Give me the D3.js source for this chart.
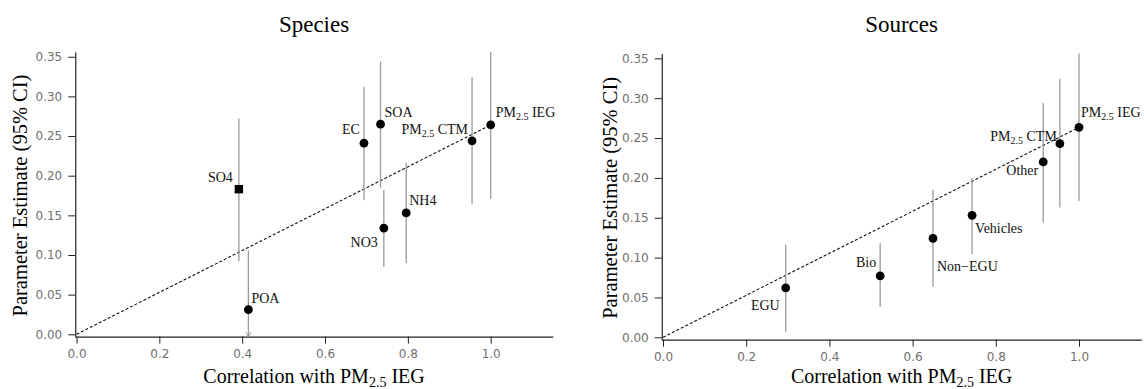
<!DOCTYPE html>
<html>
<head>
<meta charset="utf-8">
<script src="https://cdn.jsdelivr.net/npm/d3@7"></script>
<style>
  body { margin: 0; background: #fff; }
  svg { display: block; }
  .tick text { font-family: "DejaVu Sans", sans-serif; font-size: 12px; fill: #707070; }
  .tick line, .domain { stroke: #222; }
</style>
</head>
<body>
<div id="chart"></div>
<script>
// species panel
var species      = ["SO4", "POA", "EC", "SOA", "NO3", "NH4", "PM2.5 CTM", "PM2.5 IEG"];
var speciesCorr  = [0.392, 0.415, 0.694, 0.734, 0.742, 0.796, 0.955, 1.0];
var speciesEst   = [0.183, 0.031, 0.241, 0.265, 0.134, 0.153, 0.244, 0.264];
var speciesLow   = [0.092, -0.02, 0.169, 0.185, 0.085, 0.090, 0.164, 0.171];
var speciesHigh  = [0.272, 0.106, 0.312, 0.344, 0.182, 0.216, 0.324, 0.356];

// sources panel
var sources      = ["EGU", "Bio", "Non\u2212EGU", "Vehicles", "Other", "PM2.5 CTM", "PM2.5 IEG"];
var sourcesCorr  = [0.295, 0.522, 0.649, 0.743, 0.914, 0.954, 1.0];
var sourcesEst   = [0.062, 0.077, 0.124, 0.153, 0.220, 0.243, 0.2635];
var sourcesLow   = [0.007, 0.038, 0.0635, 0.1045, 0.144, 0.163, 0.171];
var sourcesHigh  = [0.116, 0.118, 0.185, 0.200, 0.294, 0.324, 0.356];

var xTicks = [0, 0.2, 0.4, 0.6, 0.8, 1.0];
var yTicks = [0, 0.05, 0.10, 0.15, 0.20, 0.25, 0.30, 0.35];

// where each label sits relative to its point
var speciesLabelPos = {
  "SO4": [-6, -7, "end"], "POA": [3, -7, "start"], "EC": [-4, -9, "end"],
  "SOA": [4, -7, "start"], "NO3": [-6, 19, "end"], "NH4": [3, -8, "start"],
  "PM2.5 CTM": [-4, -7, "end"], "PM2.5 IEG": [5, -8, "start"]
};
var sourcesLabelPos = {
  "EGU": [-6, 22, "end"], "Bio": [-4, -9, "end"], "Non\u2212EGU": [4, 33, "start"],
  "Vehicles": [3, 18, "start"], "Other": [-5, 13, "end"],
  "PM2.5 CTM": [-3, -3, "end"], "PM2.5 IEG": [2, -10, "start"]
};

var W = 1144, H = 389;
var svg = d3.select("#chart").append("svg").attr("width", W).attr("height", H);

svg.append("defs").append("marker")
  .attr("id", "vhead")
  .attr("viewBox", "-5 -8 10 10")
  .attr("refX", 0).attr("refY", 0)
  .attr("markerWidth", 10).attr("markerHeight", 10)
  .attr("markerUnits", "userSpaceOnUse")
  .attr("orient", "auto")
  .append("path")
  .attr("d", "M-3.5,-6L0,0L3.5,-6")
  .attr("transform", "rotate(-90)")
  .attr("fill", "none")
  .attr("stroke", "#999")
  .attr("stroke-width", 1);

function addLabel(g, name, x, y, pos) {
  var t = g.append("text")
    .attr("x", x + pos[0]).attr("y", y + pos[1])
    .attr("text-anchor", pos[2])
    .style("font-family", "'Liberation Serif', 'Times New Roman', serif")
    .style("font-size", "14px")
    .style("fill", "#111");
  if (name.indexOf("PM2.5") === 0) {
    t.append("tspan").text("PM");
    t.append("tspan").text("2.5").attr("dy", 3).style("font-size", "10px");
    t.append("tspan").text(" " + name.slice(6)).attr("dy", -3);
  } else {
    t.text(name);
  }
}

function drawPanel(opt) {
  var g = svg.append("g");

  var x = d3.scaleLinear().domain([-0.003, 1.15])
    .range([opt.x0 - 0.003 * opt.xUnit, opt.x0 + 1.15 * opt.xUnit]);
  var y = d3.scaleLinear().domain([-0.003, 0.356])
    .range([opt.y0 + 0.003 * opt.yUnit, opt.y0 - 0.356 * opt.yUnit]);

  g.append("g")
    .attr("transform", "translate(0," + y(-0.003) + ")")
    .call(d3.axisBottom(x).tickValues(xTicks).tickFormat(d3.format(".1f"))
      .tickSizeInner(7).tickSizeOuter(0).tickPadding(6));

  g.append("g")
    .attr("transform", "translate(" + x(-0.003) + ",0)")
    .call(d3.axisLeft(y).tickValues(yTicks).tickFormat(d3.format(".2f"))
      .tickSizeInner(7).tickSizeOuter(0).tickPadding(6));

  g.selectAll(".domain").attr("stroke-width", 1.2);

  var serif = "'Liberation Serif', 'Times New Roman', serif";
  var xMid = (x(-0.003) + x(1.15)) / 2;

  g.append("text")
    .attr("x", xMid).attr("y", 32)
    .attr("text-anchor", "middle")
    .style("font-family", serif).style("font-size", "23px")
    .text(opt.title);

  var xt = g.append("text")
    .attr("x", xMid).attr("y", 383)
    .attr("text-anchor", "middle")
    .style("font-family", serif).style("font-size", "20px");
  xt.append("tspan").text("Correlation with PM");
  xt.append("tspan").text("2.5").attr("dy", 4).style("font-size", "14px");
  xt.append("tspan").text(" IEG").attr("dy", -4);

  g.append("text")
    .attr("transform", "translate(" + opt.yTitleX + "," + y(0.175) + ") rotate(-90)")
    .attr("text-anchor", "middle")
    .style("font-family", serif).style("font-size", "20.5px")
    .text("Parameter Estimate (95% CI)");

  // dashed reference line from origin to the PM2.5 IEG estimate
  var last = opt.names.length - 1;
  g.append("line")
    .attr("x1", x(0)).attr("y1", y(0))
    .attr("x2", x(opt.corr[last])).attr("y2", y(opt.est[last]))
    .attr("stroke", "#111").attr("stroke-width", 1.1)
    .attr("stroke-dasharray", "3,2");

  opt.names.forEach(function(name, i) {
    var cx = x(opt.corr[i]);
    var clipped = opt.low[i] < 0;
    g.append("line")
      .attr("x1", cx).attr("x2", cx)
      .attr("y1", y(opt.high[i]))
      .attr("y2", clipped ? y(-0.003) : y(opt.low[i]))
      .attr("stroke", "#9a9a9a").attr("stroke-width", 1.3)
      .attr("marker-end", clipped ? "url(#vhead)" : null);
  });

  opt.names.forEach(function(name, i) {
    var cx = x(opt.corr[i]), cy = y(opt.est[i]);
    if (opt.square && opt.square.indexOf(name) >= 0) {
      g.append("rect")
        .attr("x", cx - 4.2).attr("y", cy - 4.2)
        .attr("width", 8.4).attr("height", 8.4)
        .attr("fill", "#000");
    } else {
      g.append("circle")
        .attr("cx", cx).attr("cy", cy).attr("r", 4.4)
        .attr("fill", "#000");
    }
    addLabel(g, name, cx, cy, opt.labelPos[name]);
  });
}

drawPanel({
  title: "Species", names: species, corr: speciesCorr, est: speciesEst,
  low: speciesLow, high: speciesHigh, labelPos: speciesLabelPos, square: ["SO4"],
  x0: 76.5, xUnit: 414.2, y0: 334.3, yUnit: 793, yTitleX: 27
});

drawPanel({
  title: "Sources", names: sources, corr: sourcesCorr, est: sourcesEst,
  low: sourcesLow, high: sourcesHigh, labelPos: sourcesLabelPos,
  x0: 663, xUnit: 416, y0: 337.3, yUnit: 797, yTitleX: 617
});
</script>
</body>
</html>
